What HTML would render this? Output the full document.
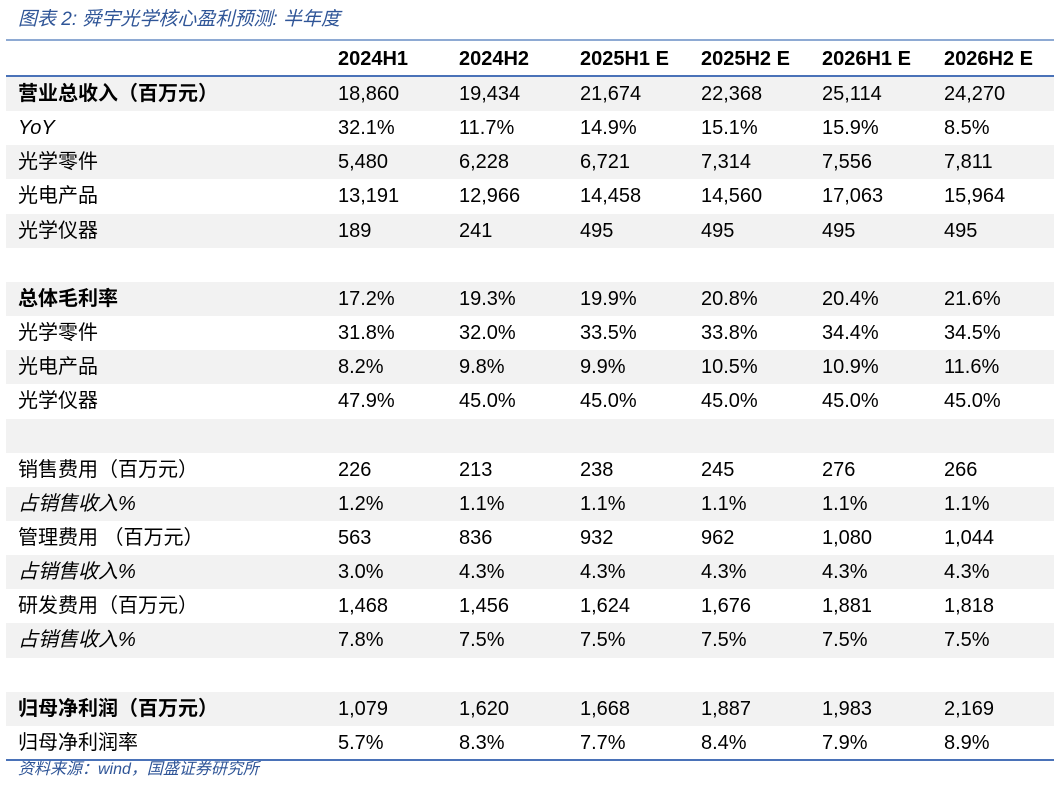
<!DOCTYPE html>
<html><head><meta charset="utf-8"><style>
body{margin:0;background:#fff;width:1060px;height:794px;position:relative;overflow:hidden;font-family:"Liberation Sans","Noto Sans CJK SC",sans-serif;}
.title{position:absolute;left:18px;top:8px;font-size:19px;line-height:24px;font-style:italic;color:#2f5597;}
.l{position:absolute;left:6px;width:1048px;}
.row{position:absolute;left:6px;width:1048px;height:34.15px;font-size:20px;color:#000;}
.row.g{background:#f2f2f2;}
.row span{position:absolute;top:0;line-height:34px;white-space:nowrap;}
.b{font-weight:bold;}
.i{font-style:italic;}
.src{position:absolute;left:18px;top:760px;font-size:16px;line-height:20px;font-style:italic;color:#2f5597;}
</style></head><body>
<div class="title">图表 2:  舜宇光学核心盈利预测:  半年度</div>
<div class="l" style="top:39px;height:2px;background:#8eaad3"></div>
<div class="row b" style="top:42px"><span style="left:332px">2024H1</span><span style="left:453px">2024H2</span><span style="left:574px">2025H1 E</span><span style="left:695px">2025H2 E</span><span style="left:816px">2026H1 E</span><span style="left:938px">2026H2 E</span></div>
<div class="l" style="top:75px;height:2px;background:#4a72b8"></div>
<div id="t"></div>
<div class="l" style="top:759px;height:2px;background:#4a72b8"></div>
<div class="src">资料来源：wind，国盛证券研究所</div>
<script>
var d=[
["营业总收入（百万元）","b","18,860","19,434","21,674","22,368","25,114","24,270"],
["YoY","i","32.1%","11.7%","14.9%","15.1%","15.9%","8.5%"],
["光学零件","","5,480","6,228","6,721","7,314","7,556","7,811"],
["光电产品","","13,191","12,966","14,458","14,560","17,063","15,964"],
["光学仪器","","189","241","495","495","495","495"],
[""],
["总体毛利率","b","17.2%","19.3%","19.9%","20.8%","20.4%","21.6%"],
["光学零件","","31.8%","32.0%","33.5%","33.8%","34.4%","34.5%"],
["光电产品","","8.2%","9.8%","9.9%","10.5%","10.9%","11.6%"],
["光学仪器","","47.9%","45.0%","45.0%","45.0%","45.0%","45.0%"],
[""],
["销售费用（百万元）","","226","213","238","245","276","266"],
["占销售收入%","i","1.2%","1.1%","1.1%","1.1%","1.1%","1.1%"],
["管理费用 （百万元）","","563","836","932","962","1,080","1,044"],
["占销售收入%","i","3.0%","4.3%","4.3%","4.3%","4.3%","4.3%"],
["研发费用（百万元）","","1,468","1,456","1,624","1,676","1,881","1,818"],
["占销售收入%","i","7.8%","7.5%","7.5%","7.5%","7.5%","7.5%"],
[""],
["归母净利润（百万元）","b","1,079","1,620","1,668","1,887","1,983","2,169"],
["归母净利润率","","5.7%","8.3%","7.7%","8.4%","7.9%","8.9%"]];
var xs=[332,453,574,695,816,938],h="";
d.forEach(function(r,k){
 h+='<div class="row'+(k%2==0?' g':'')+'" style="top:'+(77+k*34.15)+'px">';
 if(r[0]){h+='<span class="'+r[1]+'" style="left:12px">'+r[0]+'</span>';
 for(var j=0;j<6;j++)h+='<span style="left:'+xs[j]+'px">'+r[j+2]+'</span>';}
 h+='</div>';});
document.getElementById('t').innerHTML=h;
</script>
</body></html>
